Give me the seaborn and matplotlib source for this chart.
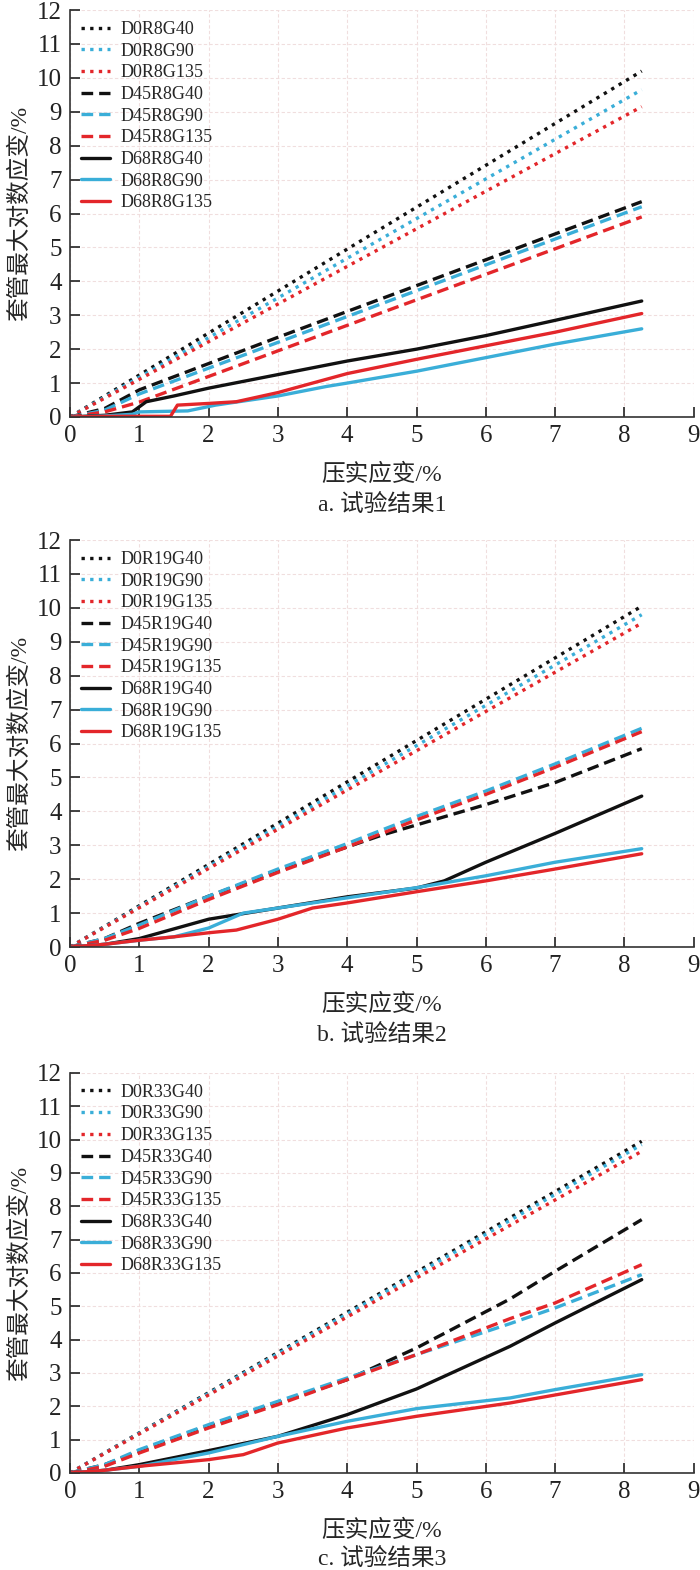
import numpy as np
import pandas as pd
import seaborn as sns
import matplotlib.pyplot as plt

# compaction strain (%) sample points
x_lin = [0, 4, 8.25]
x_dash = [0, 0.5, 1, 3, 8.25]

# panel a (R8)
a_names = ["D0R8G40", "D0R8G90", "D0R8G135", "D45R8G40", "D45R8G90", "D45R8G135",
           "D68R8G40", "D68R8G90", "D68R8G135"]
a_d0 = [[0, 4.95, 10.2], [0, 4.68, 9.65], [0, 4.44, 9.15]]
a_d45 = [[0, 0.25, 0.8, 2.35, 6.35], [0, 0.2, 0.68, 2.2, 6.2], [0, 0.15, 0.44, 1.95, 5.9]]
a_x68 = [[0, 0.5, 0.9, 1.1, 1.5, 2, 3, 4, 5, 6, 7, 8.25],
         [0, 0.5, 0.9, 1.0, 1.7, 2.1, 3, 3.7, 4, 5, 6, 7, 8.25],
         [0, 0.5, 1.0, 1.45, 1.55, 2.0, 2.4, 3.0, 3.5, 4.0, 5, 6, 7, 8.25]]
a_d68 = [[0, 0.05, 0.15, 0.45, 0.62, 0.85, 1.25, 1.65, 2.0, 2.4, 2.85, 3.42],
         [0, 0.03, 0.08, 0.15, 0.18, 0.35, 0.62, 0.9, 1.0, 1.35, 1.75, 2.15, 2.6],
         [0, 0.02, 0.02, 0.02, 0.35, 0.4, 0.45, 0.72, 1.0, 1.28, 1.7, 2.1, 2.5, 3.05]]

# panel b (R19)
b_names = ["D0R19G40", "D0R19G90", "D0R19G135", "D45R19G40", "D45R19G90", "D45R19G135",
           "D68R19G40", "D68R19G90", "D68R19G135"]
b_d0 = [[0, 4.87, 10.05], [0, 4.75, 9.8], [0, 4.63, 9.55]]
b_x45 = [0, 0.5, 1, 2, 3, 4, 4.5, 5, 6, 7, 8.25]
b_d45 = [[0, 0.25, 0.7, 1.5, 2.25, 2.95, 3.3, 3.6, 4.2, 4.85, 5.85],
         [0, 0.25, 0.65, 1.5, 2.3, 3.05, 3.45, 3.85, 4.6, 5.4, 6.45],
         [0, 0.2, 0.55, 1.4, 2.2, 2.95, 3.35, 3.75, 4.5, 5.3, 6.35]]
b_x68 = [[0, 0.5, 1, 2, 3, 4, 5, 5.4, 6, 7, 8.25],
         [0, 0.5, 1, 1.5, 2, 2.5, 3, 4, 5, 6, 7, 8.25],
         [0, 0.5, 1, 1.5, 2, 2.4, 3, 3.5, 4, 5, 6, 7, 8.25]]
b_d68 = [[0, 0.08, 0.25, 0.82, 1.15, 1.48, 1.74, 1.95, 2.5, 3.35, 4.45],
         [0, 0.08, 0.2, 0.3, 0.56, 1.0, 1.15, 1.45, 1.75, 2.1, 2.5, 2.9],
         [0, 0.08, 0.2, 0.3, 0.42, 0.5, 0.82, 1.15, 1.3, 1.63, 1.95, 2.3, 2.75]]

# panel c (R33)
c_names = ["D0R33G40", "D0R33G90", "D0R33G135", "D45R33G40", "D45R33G90", "D45R33G135",
           "D68R33G40", "D68R33G90", "D68R33G135"]
c_d0 = [[0, 4.82, 9.95], [0, 4.77, 9.85], [0, 4.68, 9.65]]
c_x45 = [0, 0.5, 1, 2, 3, 4, 5, 6.35, 7, 8.25]
c_d45 = [[0, 0.25, 0.65, 1.4, 2.1, 2.8, 3.75, 5.22, 6.05, 7.6],
         [0, 0.25, 0.7, 1.45, 2.15, 2.85, 3.55, 4.48, 4.95, 5.95],
         [0, 0.2, 0.6, 1.35, 2.05, 2.8, 3.55, 4.63, 5.1, 6.25]]
c_x68 = [[0, 0.5, 1, 2, 3, 4, 5, 6.35, 7, 8.25],
         [0, 0.5, 1, 2, 3, 4, 5, 6.35, 7, 8.25],
         [0, 0.5, 1, 2, 2.5, 3, 4, 5, 6.35, 8.25]]
c_d68 = [[0, 0.08, 0.25, 0.67, 1.1, 1.75, 2.52, 3.8, 4.5, 5.8],
         [0, 0.08, 0.2, 0.6, 1.1, 1.55, 1.93, 2.25, 2.5, 2.95],
         [0, 0.08, 0.2, 0.4, 0.55, 0.9, 1.35, 1.7, 2.1, 2.8]]

captions = ["a. 试验结果1", "b. 试验结果2", "c. 试验结果3"]

sns.set_theme(style="white")
plt.rcParams["font.family"] = ["Liberation Serif", "Noto Sans CJK SC"]
plt.rcParams["axes.unicode_minus"] = False

colors = ["#111111", "#3aaed8", "#e3262a"]
dotted = (0, (1, 1.6))
dashed = (0, (3.5, 1.8))

fig = plt.figure(figsize=(7, 15.7), dpi=100)
boxes = [(0.1, 0.7344, 0.891, 0.2592), (0.1, 0.3968, 0.891, 0.2592), (0.1, 0.0618, 0.891, 0.2548)]
panels = [(a_names, a_d0, a_d45, a_x68, a_d68, x_dash),
          (b_names, b_d0, b_d45, b_x68, b_d68, b_x45),
          (c_names, c_d0, c_d45, c_x68, c_d68, c_x45)]

for k, (names, d0, d45, x68, d68, x45) in enumerate(panels):
    ax = fig.add_axes(boxes[k])
    for i in range(3):
        sns.lineplot(x=x_lin, y=d0[i], ax=ax, color=colors[i], lw=2.4,
                     linestyle=dotted, label=names[i])
    for i in range(3):
        sns.lineplot(x=x45, y=d45[i], ax=ax, color=colors[i], lw=2.4,
                     linestyle=dashed, label=names[3 + i])
    for i in range(3):
        sns.lineplot(x=x68[i], y=d68[i], ax=ax, color=colors[i], lw=2.4,
                     linestyle="-", label=names[6 + i])
    ax.set_xlim(0, 9)
    ax.set_ylim(0, 12)
    ax.set_xticks(range(0, 10))
    ax.set_yticks(range(0, 13))
    ax.grid(True, color="#f0dede", lw=0.8, ls=(0, (3, 2)))
    for s in ["top", "right"]:
        ax.spines[s].set_visible(False)
    for s in ["left", "bottom"]:
        ax.spines[s].set_color("#333333")
        ax.spines[s].set_linewidth(1.2)
    ax.tick_params(direction="in", length=7, width=1.2, labelsize=18, colors="#222222",
                   left=True, bottom=True, pad=6)
    ax.set_xlabel("压实应变/%", fontsize=17, labelpad=12)
    ax.set_ylabel("套管最大对数应变/%", fontsize=17, labelpad=4)
    ax.text(0.5, -0.215, captions[k], transform=ax.transAxes, ha="center", va="center",
            fontsize=17)
    ax.legend(loc="upper left", frameon=False, fontsize=13, handlelength=1.6,
              labelspacing=0.26, handletextpad=0.6, borderaxespad=0.2,
              bbox_to_anchor=(0.0, 1.0))

fig.savefig("out.png", dpi=100)
